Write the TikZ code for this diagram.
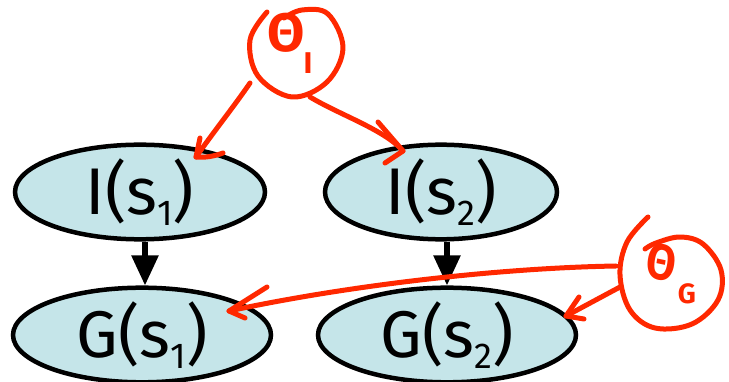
\documentclass[tikz,border=0pt]{standalone}
\usepackage{fontspec}
\setmainfont{Fira Sans}
\usetikzlibrary{shapes.geometric,arrows.meta}
\definecolor{nodefill}{RGB}{197,229,233}
\definecolor{pen}{RGB}{255,40,0}
\newcommand\lowsub[1]{\raisebox{-0.32ex}{\fontsize{36}{36}\selectfont #1}}
\begin{document}
\begin{tikzpicture}[x=1pt,y=-1pt,
  var/.style={ellipse,draw=black,line width=4.5pt,fill=nodefill,inner sep=0pt,
    font=\fontsize{66}{68}\selectfont,minimum height=74pt},
  ink/.style={draw=pen,line width=5pt,line cap=round,line join=round},
  inktext/.style={text=pen,inner sep=0pt},
  causal/.style={draw=black,line width=5.5pt,-{Triangle[length=30pt,width=26pt]}}]
\useasboundingbox (0,0) rectangle (729,382);
% variable nodes
\node[var,minimum width=250pt] (I1) at (140,192) {I(s\lowsub{1})};
\node[var,minimum width=232pt] (I2) at (441,192) {I(s\lowsub{2})};
\node[var,minimum width=258pt] (G1) at (142,335) {G(s\lowsub{1})};
\node[var,minimum width=258pt] (G2) at (447,335) {G(s\lowsub{2})};
% causal arrows
\draw[causal] (I1.south -| 145,0) -- (G1.north -| 145,0);
\draw[causal] (I2.south -| 447,0) -- (G2.north -| 447,0);
% theta_I
\node[inktext,font=\fontsize{54}{54}\selectfont\bfseries] (thI) at (286,33) {Θ};
\node[inktext,font=\fontsize{30}{30}\selectfont\bfseries] (thIs) at (308,63) {I};
\draw[ink] plot[smooth,tension=0.6] coordinates {(267,12) (250,40) (258,76) (292,97) (327,82) (343,48) (328,14) (302,10) (284,18)};
% theta_G
\node[inktext,font=\fontsize{50}{50}\selectfont\bfseries,xscale=0.85,rotate=-10] (thG) at (662,262) {Θ};
\node[inktext,font=\fontsize{28}{28}\selectfont\bfseries] (thGs) at (687,294) {G};
\draw[ink] plot[smooth,tension=0.6] coordinates {(648,217) (627,242) (620,275) (630,310) (655,328) (692,324) (718,300) (721,270) (703,244) (680,237) (656,243) (645,249)};
% red arrows from theta_I
\coordinate (aI1) at (250,83);
\coordinate (tI1) at (196,157);
\draw[ink] (aI1) .. controls (235,105) and (215,130) .. (tI1);
\draw[ink] (200,138) -- (tI1) .. controls (205,158) and (215,156) .. (223,153);
\coordinate (aI2) at (310,97);
\coordinate (tI2) at (403,151);
\draw[ink] (aI2) .. controls (340,115) and (385,130) .. (tI2);
\draw[ink] (378,122) -- (tI2) -- (385,163);
% red arrows from theta_G
\coordinate (aG1) at (616,266);
\coordinate (tG1) at (229,311);
\draw[ink] (aG1) .. controls (500,268) and (350,285) .. (tG1);
\draw[ink] (267,287) -- (tG1) -- (245,318);
\coordinate (aG2) at (620,287);
\coordinate (tG2) at (566,316);
\draw[ink] (aG2) -- (tG2);
\draw[ink] (579,297) -- (tG2) -- (584,319);
\end{tikzpicture}
\end{document}
